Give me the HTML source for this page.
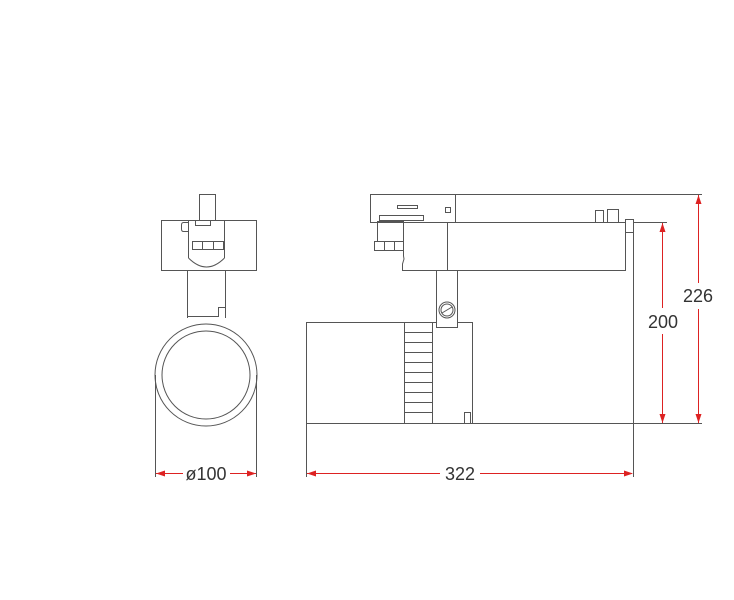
<!DOCTYPE html>
<html><head><meta charset="utf-8"><style>
html,body{margin:0;padding:0;background:#fff;}
svg{display:block}
text{font-family:"Liberation Sans",Arial,sans-serif;font-size:18px;fill:#333}
</style></head><body>
<svg width="734" height="600" viewBox="0 0 734 600" xmlns="http://www.w3.org/2000/svg">
<g fill="none" stroke="#555" stroke-width="1">
<!-- left view -->
<rect x="199.5" y="194.5" width="16" height="26"/>
<rect x="161.5" y="220.5" width="95" height="50"/>
<line x1="188.5" y1="220.5" x2="188.5" y2="258"/>
<line x1="224.5" y1="220.5" x2="224.5" y2="258"/>
<path d="M188.5 258 Q206.5 276 224.5 258"/>
<rect x="192.5" y="241.5" width="31" height="8"/>
<line x1="202.5" y1="241.5" x2="202.5" y2="249.5"/>
<line x1="213.5" y1="241.5" x2="213.5" y2="249.5"/>
<rect x="195.5" y="220.5" width="15" height="5"/>
<path d="M188.5 222.5 H183.5 Q181.5 222.5 181.5 225 V229 Q181.5 231.5 183.5 231.5 H188.5"/>
<line x1="187.5" y1="270.5" x2="187.5" y2="318"/>
<line x1="225.5" y1="270.5" x2="225.5" y2="318"/>
<path d="M187.5 316.5 H218.5 V307.5 H225.5"/>
<circle cx="206" cy="375" r="51"/>
<circle cx="206" cy="375" r="44"/>
<line x1="155.5" y1="375" x2="155.5" y2="477"/>
<line x1="256.5" y1="375" x2="256.5" y2="477"/>
<!-- side view -->
<rect x="370.5" y="194.5" width="85" height="28"/>
<line x1="455.5" y1="194.5" x2="702" y2="194.5"/>
<rect x="397.5" y="205.5" width="20" height="3"/>
<rect x="445.5" y="207.5" width="5" height="5"/>
<rect x="379.5" y="215.5" width="44" height="5"/>
<rect x="377.5" y="221.5" width="26" height="20"/>
<rect x="374.5" y="241.5" width="29" height="9"/>
<line x1="384.5" y1="241.5" x2="384.5" y2="250.5"/>
<line x1="394.5" y1="241.5" x2="394.5" y2="250.5"/>
<path d="M403.5 222.5 H625.5 V270.5 H402.5 L402.5 264 L404 259 L403.5 256 Z"/>
<line x1="447.5" y1="222.5" x2="447.5" y2="270.5"/>
<rect x="595.5" y="210.5" width="8" height="12"/>
<rect x="607.5" y="209.5" width="11" height="13"/>
<rect x="625.5" y="219.5" width="8" height="13"/>
<line x1="633.5" y1="222.5" x2="667" y2="222.5"/>
<line x1="633.5" y1="232" x2="633.5" y2="477"/>
<rect x="436.5" y="270.5" width="21" height="57"/>
<circle cx="447" cy="310" r="8"/>
<circle cx="447" cy="310" r="6"/>
<line x1="442" y1="313" x2="452" y2="307"/>
<path d="M306.5 477 V322.5 H436.5 M457.5 322.5 H472.5 V423.5"/>
<line x1="306.5" y1="423.5" x2="702" y2="423.5"/>
<rect x="404.5" y="322.5" width="28" height="101"/>
<g>
<line x1="404.5" y1="332.5" x2="432.5" y2="332.5"/>
<line x1="404.5" y1="342.5" x2="432.5" y2="342.5"/>
<line x1="404.5" y1="352.5" x2="432.5" y2="352.5"/>
<line x1="404.5" y1="362.5" x2="432.5" y2="362.5"/>
<line x1="404.5" y1="372.5" x2="432.5" y2="372.5"/>
<line x1="404.5" y1="382.5" x2="432.5" y2="382.5"/>
<line x1="404.5" y1="392.5" x2="432.5" y2="392.5"/>
<line x1="404.5" y1="402.5" x2="432.5" y2="402.5"/>
<line x1="404.5" y1="412.5" x2="432.5" y2="412.5"/>
</g>
<rect x="464.5" y="412.5" width="6" height="11"/>
</g>
<!-- dimensions -->
<g stroke="#d22" stroke-width="1" fill="none">
<line x1="156" y1="473.5" x2="183" y2="473.5"/>
<line x1="230" y1="473.5" x2="256" y2="473.5"/>
<line x1="307" y1="473.5" x2="440" y2="473.5"/>
<line x1="480" y1="473.5" x2="632" y2="473.5"/>
<line x1="662.5" y1="223" x2="662.5" y2="308"/>
<line x1="662.5" y1="334" x2="662.5" y2="423"/>
<line x1="698.5" y1="195" x2="698.5" y2="283"/>
<line x1="698.5" y1="309" x2="698.5" y2="423"/>
</g>
<g fill="#d22">
<path d="M156 473.5 l9 -3 v6 z"/><path d="M256 473.5 l-9 -3 v6 z"/>
<path d="M307 473.5 l9 -3 v6 z"/><path d="M633 473.5 l-9 -3 v6 z"/>
<path d="M662.5 223 l-3 9 h6 z"/><path d="M662.5 423 l-3 -9 h6 z"/>
<path d="M698.5 195 l-3 9 h6 z"/><path d="M698.5 423 l-3 -9 h6 z"/>
</g>
<text x="206" y="480" text-anchor="middle">ø100</text>
<text x="460" y="480" text-anchor="middle">322</text>
<text x="663" y="328" text-anchor="middle">200</text>
<text x="698" y="302" text-anchor="middle">226</text>
</svg>
</body></html>
